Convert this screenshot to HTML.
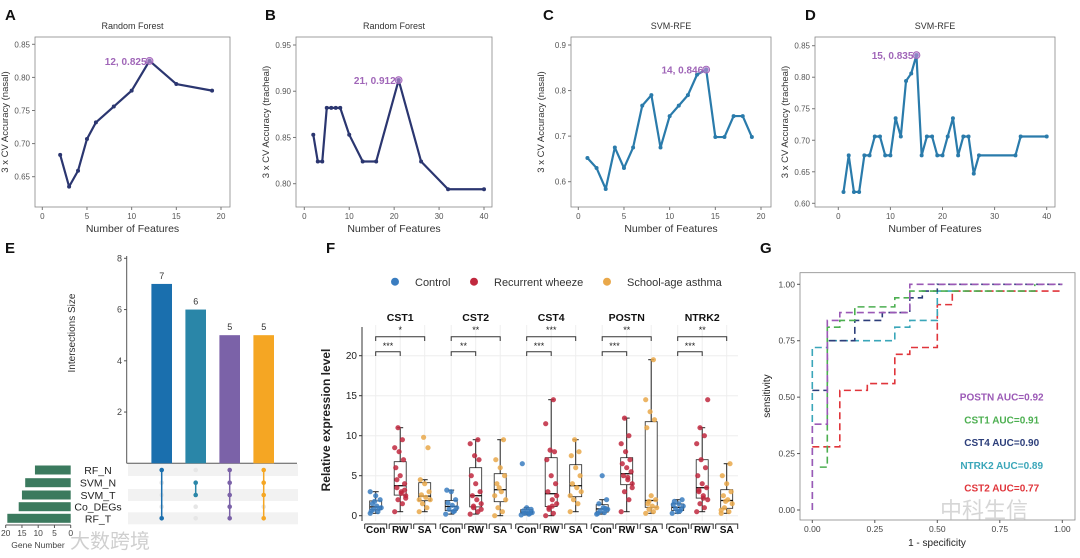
<!DOCTYPE html>
<html><head><meta charset="utf-8"><style>
html,body{margin:0;padding:0;background:#fff;}
svg{display:block;font-family:"Liberation Sans","Noto Sans CJK SC",sans-serif;}
</style></head><body>
<svg id="fig" width="1080" height="558" viewBox="0 0 1080 558" xmlns="http://www.w3.org/2000/svg"></svg>
<script>
// ---------- data ----------
const aX=[2,3,4,5,6,8,10,12,15,19];
const aY=[0.683,0.635,0.659,0.707,0.732,0.756,0.780,0.825,0.790,0.780];
const bX=[2,3,4,5,6,7,8,10,13,16,21,26,32,40];
const bY=[0.853,0.824,0.824,0.882,0.882,0.882,0.882,0.853,0.824,0.824,0.912,0.824,0.794,0.794];
const cX=[1,2,3,4,5,6,7,8,9,10,11,12,13,14,15,16,17,18,19];
const cY=[0.652,0.630,0.584,0.675,0.630,0.675,0.767,0.790,0.675,0.744,0.767,0.790,0.835,0.846,0.698,0.698,0.744,0.744,0.698];
const dX=[1,2,3,4,5,6,7,8,9,10,11,12,13,14,15,16,17,18,19,20,21,22,23,24,25,26,27,34,35,40];
const dY=[0.618,0.676,0.618,0.618,0.676,0.676,0.706,0.706,0.676,0.676,0.735,0.706,0.794,0.806,0.835,0.676,0.706,0.706,0.676,0.676,0.706,0.735,0.676,0.706,0.706,0.647,0.676,0.676,0.706,0.706];

const eSizes=[7,6,5,5];
const eSetNames=["RF_N","SVM_N","SVM_T","Co_DEGs","RF_T"];
const eSetSizes=[11,14,15,16,19.5];
const eMembers=[[0,4],[1,2],[0,1,2,3,4],[0,1,2,4]];

const fGenes=["CST1","CST2","CST4","POSTN","NTRK2"];
const fGroups=["Con","RW","SA"];
const fSigTop=["*","**","***","**","**"];
const fSigLow=["***","**","***","***","***"];
const fCST1Con=[0.3,0.5,0.8,1.0,1.2,1.5,2.0,2.5,0.6,0.9,1.8,3.0];
const fCST1RW=[0.5,1.5,2,2.5,3,3.5,4,5,6,7,8,8.5,9.5,11,2.2,2.8,4.5,3.2];
const fCST1SA=[0.5,1,1.5,2,2.3,2.6,3,4,4.5,8.5,9.8,2];
const fCST2Con=[0.2,0.5,0.8,1,1.3,1.6,2,3,3.2,0.6];
const fCST2RW=[0.2,0.5,1,1.5,2,2.5,3,4,5,7,7.5,9,9.5,1.2,0.8];
const fCST2SA=[0,0.5,1,2,3,4,5,6,7,9.5,3.5,2.5];
const fCST4Con=[0.1,0.2,0.3,0.4,0.5,0.6,0.8,1.0,6.5,0.3];
const fCST4RW=[0,0.3,0.8,1.5,2,3,4,5,7,8,8.2,11.5,14.5,1,2.5,1.2];
const fCST4SA=[0.5,1.5,2,3,3.5,4,5,6,7.5,8,9.5,2.5];
const fPOSTNCon=[0.2,0.4,0.6,0.8,1,1.5,2,5,0.3,0.9];
const fPOSTNRW=[0.5,2,3,4,4.5,5,5.5,6,6.5,7,8,9,10,12.2,3.5,4.8];
const fPOSTNSA=[0.3,0.5,0.8,1,1.2,1.5,2,2.5,11,12,13,14.5,19.5,1.8];
const fNTRK2Con=[0.3,0.6,0.9,1.2,1.5,1.8,2,0.5,1.4,0.8];
const fNTRK2RW=[0.5,1,1.5,2,2.5,3,3.5,4,5,6,7,9,10,11,14.5,2.2,3.2];
const fNTRK2SA=[0.3,0.5,1,1.5,2,2.5,3,4,5,6.5,1.8,0.7];
const fYTicks=[0,5,10,15,20];

const gNames=["POSTN","CST1","CST4","NTRK2","CST2"];
const gAUC=["0.92","0.91","0.90","0.89","0.77"];
const gPOSTNx=[0,0,0.06,0.06,0.11,0.11,0.39,0.39,1];
const gPOSTNy=[0,0.38,0.38,0.84,0.84,0.875,0.875,1,1];
const gCST1x=[0.03,0.06,0.06,0.11,0.11,0.17,0.17,0.33,0.33,0.39,0.39,0.89,0.89];
const gCST1y=[0.19,0.19,0.81,0.81,0.84,0.84,0.90,0.90,0.94,0.94,0.97,0.97,1];
const gCST4x=[0,0.06,0.06,0.17,0.17,0.28,0.28,0.39,0.39,0.44,0.44,0.5,0.5,1];
const gCST4y=[0.53,0.53,0.75,0.75,0.84,0.84,0.875,0.875,0.94,0.94,0.97,0.97,1,1];
const gNTRK2x=[0,0,0.06,0.06,0.33,0.33,0.39,0.39,0.5,0.5,0.56];
const gNTRK2y=[0,0.72,0.72,0.75,0.75,0.81,0.81,0.84,0.84,0.97,0.97];
const gCST2x=[0,0.11,0.11,0.22,0.22,0.33,0.33,0.39,0.39,0.5,0.5,0.56,0.56,1];
const gCST2y=[0.28,0.28,0.53,0.53,0.56,0.56,0.69,0.69,0.72,0.72,0.91,0.91,0.97,0.97];
const gTicks=[0,0.25,0.5,0.75,1];

// ---------- helpers ----------
const NS="http://www.w3.org/2000/svg";
const svg=document.getElementById('fig');
function el(tag,attrs,parent,text){const e=document.createElementNS(NS,tag);for(const k in attrs)e.setAttribute(k,attrs[k]);if(text!==undefined)e.textContent=text;(parent||svg).appendChild(e);return e;}
function lin(d0,d1,r0,r1){return v=>r0+(v-d0)/(d1-d0)*(r1-r0);}

function panelLabel(t,x,y){const e=el('text',{x:x,y:y,'font-size':15,'font-weight':'bold',fill:'#111'},svg,t);

}

function lineChart(id,box,xd,yd,xt,yt,ytf,xs,ys,color,title,ylab){
  const g=el('g',{});
  
  
  const X=lin(xd[0],xd[1],box.x0r,box.x1r),Y=lin(yd[0],yd[1],box.y0r,box.y1r);
  el('rect',{x:box.l,y:box.t,width:box.r-box.l,height:box.b-box.t,fill:'none',stroke:'#888','stroke-width':0.8},g);
  const tt=el('text',{x:(box.l+box.r)/2,y:box.t-8,'font-size':9,'text-anchor':'middle',fill:'#333'},g,title);
  
  
  xt.forEach(v=>{el('line',{x1:X(v),x2:X(v),y1:box.b,y2:box.b+3,stroke:'#777'},g);el('text',{x:X(v),y:box.b+12,'font-size':8,'text-anchor':'middle',fill:'#555'},g,v);});
  yt.forEach(v=>{el('line',{x1:box.l-3,x2:box.l,y1:Y(v),y2:Y(v),stroke:'#777'},g);el('text',{x:box.l-5,y:Y(v)+3,'font-size':8,'text-anchor':'end',fill:'#555'},g,v.toFixed(ytf));});
  const xl=el('text',{x:(box.l+box.r)/2,y:box.b+25,'font-size':10.5,'text-anchor':'middle',fill:'#333'},g,'Number of Features');
  
  
  const yx=box.l-27,yy=(box.t+box.b)/2;
  const yl=el('text',{x:yx,y:yy,'font-size':9.5,'text-anchor':'middle',fill:'#333',transform:`rotate(-90 ${yx} ${yy})`},g,ylab);
  
  
  const pts=xs.map((v,i)=>X(v)+','+Y(ys[i])).join(' ');
  const pl=el('polyline',{points:pts,fill:'none',stroke:color,'stroke-width':2.2,'stroke-linejoin':'round'},g);
  
  
  xs.forEach((v,i)=>{const c=el('circle',{cx:X(v),cy:Y(ys[i]),r:2,fill:color},g);
    
    });
  let bi=0;ys.forEach((v,i)=>{if(v>ys[bi])bi=i;});
  el('circle',{cx:X(xs[bi]),cy:Y(ys[bi]),r:3.5,fill:'#b58ad0','fill-opacity':0.7,stroke:'#a05bb5','stroke-width':0.8},g);
  const bt=el('text',{x:X(xs[bi])-3,y:Y(ys[bi])+4,'font-size':10,'font-weight':'bold','text-anchor':'end',fill:'#a066b8'},g,xs[bi]+', '+ys[bi].toFixed(3));
  
  
}

// ---------- A-D ----------
panelLabel('A',5,20);panelLabel('B',265,20);panelLabel('C',543,20);panelLabel('D',805,20);
lineChart('a',{l:35,r:230,t:37,b:207,x0r:42.3,x1r:221,y0r:176.7,y1r:44.3},[0,20],[0.65,0.85],[0,5,10,15,20],[0.65,0.70,0.75,0.80,0.85],2,aX,aY,'#2b3670','Random Forest','3 x CV Accuracy (nasal)');
lineChart('b',{l:296,r:492,t:37,b:207,x0r:304.3,x1r:484,y0r:183.7,y1r:45},[0,40],[0.80,0.95],[0,10,20,30,40],[0.80,0.85,0.90,0.95],2,bX,bY,'#2b3670','Random Forest','3 x CV Accuracy (tracheal)');
lineChart('c',{l:571,r:771,t:37,b:207,x0r:578.3,x1r:761,y0r:181.7,y1r:45},[0,20],[0.6,0.9],[0,5,10,15,20],[0.6,0.7,0.8,0.9],1,cX,cY,'#2a7bab','SVM-RFE','3 x CV Accuracy (nasal)');
lineChart('d',{l:815,r:1055,t:37,b:207,x0r:838.3,x1r:1046.7,y0r:203.3,y1r:45.7},[0,40],[0.60,0.85],[0,10,20,30,40],[0.60,0.65,0.70,0.75,0.80,0.85],2,dX,dY,'#2a7bab','SVM-RFE','3 x CV Accuracy (tracheal)');

// ---------- E ----------
panelLabel('E',5,253);
(function(){
  const g=el('g',{});
  
  
  const Y=lin(0,8,463.3,258.3);
  const cols=['#1a6fae','#2a86a8','#7b62a8','#f5a623'];
  const cx=[161.7,195.7,229.7,263.7];
  const rowY=[470,482.7,495,506.7,518.3];
  el('line',{x1:126.7,x2:126.7,y1:256,y2:463.3,stroke:'#555'},g);
  [2,4,6,8].forEach(v=>{el('line',{x1:124,x2:126.7,y1:Y(v),y2:Y(v),stroke:'#555'},g);el('text',{x:122,y:Y(v)+3,'font-size':9,'text-anchor':'end',fill:'#444'},g,v);});
  el('line',{x1:126.7,x2:297,y1:463.3,y2:463.3,stroke:'#555'},g);
  const yl=el('text',{x:75,y:333,'font-size':10,'text-anchor':'middle',fill:'#333',transform:'rotate(-90 75 333)'},g,'Intersections Size');
  
  
  eSizes.forEach((v,i)=>{
    const b=el('rect',{x:cx[i]-10.3,y:Y(v),width:20.6,height:463.3-Y(v),fill:cols[i]},g);
    
    
    el('text',{x:cx[i],y:Y(v)-5,'font-size':9,'text-anchor':'middle',fill:'#333'},g,v);
  });
  rowY.forEach((y,r)=>{ if(r%2==0) el('rect',{x:128,y:y-6,width:170,height:12,fill:'#f2f2f2'},g);});
  eMembers.forEach((m,i)=>{
    rowY.forEach((y,r)=>{el('circle',{cx:cx[i],cy:y,r:2.3,fill:m.includes(r)?cols[i]:'#e6e6e6'},g);});
    const mn=Math.min(...m),mx=Math.max(...m);
    el('line',{x1:cx[i],x2:cx[i],y1:rowY[mn],y2:rowY[mx],stroke:cols[i],'stroke-width':1.5},g);
  });
  const S=lin(0,20,70.7,5.7);
  eSetNames.forEach((n,r)=>{
    const b=el('rect',{x:S(eSetSizes[r]),y:rowY[r]-4.5,width:70.7-S(eSetSizes[r]),height:9,fill:'#3b7a5e'},g);
    
    
    el('text',{x:98,y:rowY[r]+4,'font-size':10.5,'text-anchor':'middle',fill:'#222'},g,n);
  });
  el('line',{x1:S(20),x2:S(0),y1:525,y2:525,stroke:'#555'},g);
  [20,15,10,5,0].forEach(v=>{el('line',{x1:S(v),x2:S(v),y1:525,y2:528,stroke:'#555'},g);el('text',{x:S(v),y:536,'font-size':8.5,'text-anchor':'middle',fill:'#444'},g,v);});
  el('text',{x:38,y:548,'font-size':8.5,'text-anchor':'middle',fill:'#444'},g,'Gene Number');
  const w=el('text',{x:70,y:548,'font-size':20,fill:'#bbb','fill-opacity':0.7},g,'大数跨境');
  
  
})();

// ---------- F ----------
panelLabel('F',326,253);
(function(){
  const g=el('g',{});
  
  
  const Y=lin(0,20,515.7,355.7);
  const data=[[fCST1Con,fCST1RW,fCST1SA],[fCST2Con,fCST2RW,fCST2SA],[fCST4Con,fCST4RW,fCST4SA],[fPOSTNCon,fPOSTNRW,fPOSTNSA],[fNTRK2Con,fNTRK2RW,fNTRK2SA]];
  const cols=['#3a7dc0','#c0283e','#e9a84a'];
  const X=(gi,k)=>375.7+75.5*gi+24.5*k;
  const lg=el('g',{},g);
  
  
  [['Control',395],['Recurrent wheeze',474],['School-age asthma',607]].forEach((l,i)=>{
    el('circle',{cx:l[1],cy:281.7,r:4,fill:cols[i]},lg);
    el('text',{x:l[1]+20,y:286,'font-size':11,fill:'#333'},lg,l[0]);
  });
  fYTicks.forEach(v=>{el('line',{x1:362,x2:738,y1:Y(v),y2:Y(v),stroke:'#eee'},g);
    el('line',{x1:359,x2:362,y1:Y(v),y2:Y(v),stroke:'#333'},g);
    el('text',{x:357,y:Y(v)+3.5,'font-size':10,'text-anchor':'end',fill:'#222'},g,v);});
  el('line',{x1:362,x2:362,y1:327,y2:521,stroke:'#333'},g);
  const yl=el('text',{x:330,y:420,'font-size':12,'font-weight':'bold','text-anchor':'middle',fill:'#222',transform:'rotate(-90 330 420)'},g,'Relative expression level');
  
  
  function q(a,p){const s=[...a].sort((x,y)=>x-y);const i=(s.length-1)*p,lo=Math.floor(i),hi=Math.ceil(i);return s[lo]+(s[hi]-s[lo])*(i-lo);}
  fGenes.forEach((gn,gi)=>{
    for(let k=0;k<3;k++) el('line',{x1:X(gi,k),x2:X(gi,k),y1:325,y2:521,stroke:'#eee'},g);
    el('text',{x:X(gi,1),y:321,'font-size':10.5,'font-weight':'bold','text-anchor':'middle',fill:'#111'},g,gn);
    el('path',{d:`M${X(gi,0)},341 V336.7 H${X(gi,2)} V341`,fill:'none',stroke:'#333'},g);
    el('text',{x:X(gi,1),y:333,'font-size':9,'text-anchor':'middle',fill:'#222'},g,fSigTop[gi]);
    el('path',{d:`M${X(gi,0)},356 V351.7 H${X(gi,1)} V356`,fill:'none',stroke:'#333'},g);
    el('text',{x:(X(gi,0)+X(gi,1))/2,y:349,'font-size':9,'text-anchor':'middle',fill:'#222'},g,fSigLow[gi]);
    data[gi].forEach((arr,k)=>{
      const cx=X(gi,k),q1=q(arr,0.25),q3=q(arr,0.75),md=q(arr,0.5),iqr=q3-q1;
      const inr=arr.filter(v=>v>=q1-1.5*iqr&&v<=q3+1.5*iqr);
      const lo=Math.min(...inr),hi=Math.max(...inr);
      const bg=el('g',{},g);
      
      
      el('line',{x1:cx,x2:cx,y1:Y(lo),y2:Y(hi),stroke:'#222'},bg);
      el('line',{x1:cx-3,x2:cx+3,y1:Y(hi),y2:Y(hi),stroke:'#222'},bg);
      el('line',{x1:cx-3,x2:cx+3,y1:Y(lo),y2:Y(lo),stroke:'#222'},bg);
      el('rect',{x:cx-6,y:Y(q3),width:12,height:Y(q1)-Y(q3),fill:'#fff',stroke:'#222','stroke-width':0.8},bg);
      el('line',{x1:cx-6,x2:cx+6,y1:Y(md),y2:Y(md),stroke:'#111','stroke-width':1.3},bg);
      arr.forEach((v,i)=>{const c=el('circle',{cx:cx+((i*7)%11-5)*1.1,cy:Y(v),r:2.6,fill:cols[k],'fill-opacity':0.85},bg);
        
        });
      el('path',{d:`M${cx-11},524 V529 M${cx-11},524 H${cx+11} V529`,fill:'none',stroke:'#333'},g);
      el('text',{x:cx,y:533,'font-size':10,'font-weight':'bold','text-anchor':'middle',fill:'#111'},g,fGroups[k]);
    });
  });
})();

// ---------- G ----------
panelLabel('G',760,253);
(function(){
  const g=el('g',{});
  
  
  const X=lin(0,1,812.3,1062.3),Y=lin(0,1,510,284.3);
  el('rect',{x:800,y:272.7,width:275,height:247.3,fill:'none',stroke:'#888','stroke-width':0.8},g);
  gTicks.forEach(v=>{
    el('line',{x1:X(v),x2:X(v),y1:520,y2:523,stroke:'#555'},g);
    el('text',{x:X(v),y:532,'font-size':8.5,'text-anchor':'middle',fill:'#444'},g,v.toFixed(2));
    el('line',{x1:797,x2:800,y1:Y(v),y2:Y(v),stroke:'#555'},g);
    el('text',{x:795,y:Y(v)+3,'font-size':8.5,'text-anchor':'end',fill:'#444'},g,v.toFixed(2));
  });
  const xl=el('text',{x:937,y:546,'font-size':10,'text-anchor':'middle',fill:'#222'},g,'1 - specificity');
  
  
  const yl=el('text',{x:770,y:396,'font-size':10,'text-anchor':'middle',fill:'#222',transform:'rotate(-90 770 396)'},g,'sensitivity');
  
  
  const cols=['#9b59b6','#4caf50','#2c3e7a','#3aa6b9','#e0353b'];
  const series=[[gPOSTNx,gPOSTNy],[gCST1x,gCST1y],[gCST4x,gCST4y],[gNTRK2x,gNTRK2y],[gCST2x,gCST2y]];
  [4,3,2,1,0].forEach(i=>{
    const s=series[i];
    const p=el('polyline',{points:s[0].map((v,j)=>X(v)+','+Y(s[1][j])).join(' '),fill:'none',stroke:cols[i],'stroke-width':1.6,'stroke-dasharray':'7,4'},g);
    
    
  });
  gNames.forEach((n,i)=>{
    const t=el('text',{x:1001.7,y:400.5+i*22.75,'font-size':10,'font-weight':'bold','text-anchor':'middle',fill:cols[i]},g,n+' AUC='+gAUC[i]);
    
    
  });
  const w=el('text',{x:940,y:518,'font-size':22,fill:'#bbb','fill-opacity':0.6},g,'中科生信');
  
  
})();
</script>
</body></html>
